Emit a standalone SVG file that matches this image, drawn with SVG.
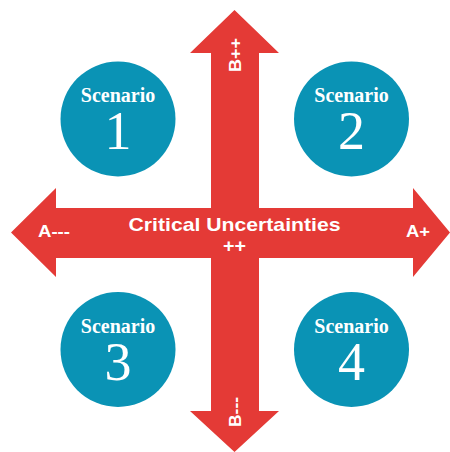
<svg xmlns="http://www.w3.org/2000/svg" width="450" height="452" viewBox="0 0 450 452">
<style>
.arrow{fill:#e43a36}
.circ{fill:#0a93b5}
.sc{font-family:"Liberation Serif",serif;font-weight:bold;font-size:20px;fill:#fff;text-anchor:middle}
.num{font-family:"Liberation Serif",serif;font-size:54px;fill:#fff;text-anchor:middle}
.lbl{font-family:"Liberation Sans",Arial,sans-serif;font-weight:bold;fill:#fff}
</style>
<rect width="450" height="452" fill="#fff"/>
<g id="connectors">
<polygon class="arrow" points="234.5,10 279,53 259,53 259,411 279,411 234.5,452 190,411 211,411 211,53 190,53"/>
<polygon class="arrow" points="11,232.5 56,188 56,208 413,208 413,188 450,232.5 413,277 413,258 56,258 56,277"/>
</g>
<g id="labels">
<text class="lbl" x="234.5" y="231" font-size="18.5" text-anchor="middle" textLength="212" lengthAdjust="spacingAndGlyphs">Critical Uncertainties</text>
<text class="lbl" x="234.5" y="252" font-size="18" text-anchor="middle" textLength="23" lengthAdjust="spacingAndGlyphs">++</text>
<text class="lbl" x="38" y="237" font-size="16" textLength="32" lengthAdjust="spacingAndGlyphs">A---</text>
<text class="lbl" x="406" y="237" font-size="16" textLength="24" lengthAdjust="spacingAndGlyphs">A+</text>
<text class="lbl" font-size="16" transform="translate(240.5,72) rotate(-90)" textLength="34" lengthAdjust="spacingAndGlyphs">B++</text>
<text class="lbl" font-size="16" transform="translate(241,427) rotate(-90)" textLength="30" lengthAdjust="spacingAndGlyphs">B---</text>
</g>
<g id="scenario1">
<circle class="circ" cx="118" cy="119" r="57.5"/>
<text class="sc" x="118" y="102">Scenario</text>
<text class="num" x="118" y="149">1</text>
</g>
<g id="scenario2">
<circle class="circ" cx="351.5" cy="119" r="57.5"/>
<text class="sc" x="351.5" y="102">Scenario</text>
<text class="num" x="351.5" y="149">2</text>
</g>
<g id="scenario3">
<circle class="circ" cx="118" cy="349.5" r="57.5"/>
<text class="sc" x="118" y="333">Scenario</text>
<text class="num" x="118" y="380">3</text>
</g>
<g id="scenario4">
<circle class="circ" cx="351.5" cy="349.5" r="57.5"/>
<text class="sc" x="351.5" y="333">Scenario</text>
<text class="num" x="351.5" y="380">4</text>
</g>
</svg>
